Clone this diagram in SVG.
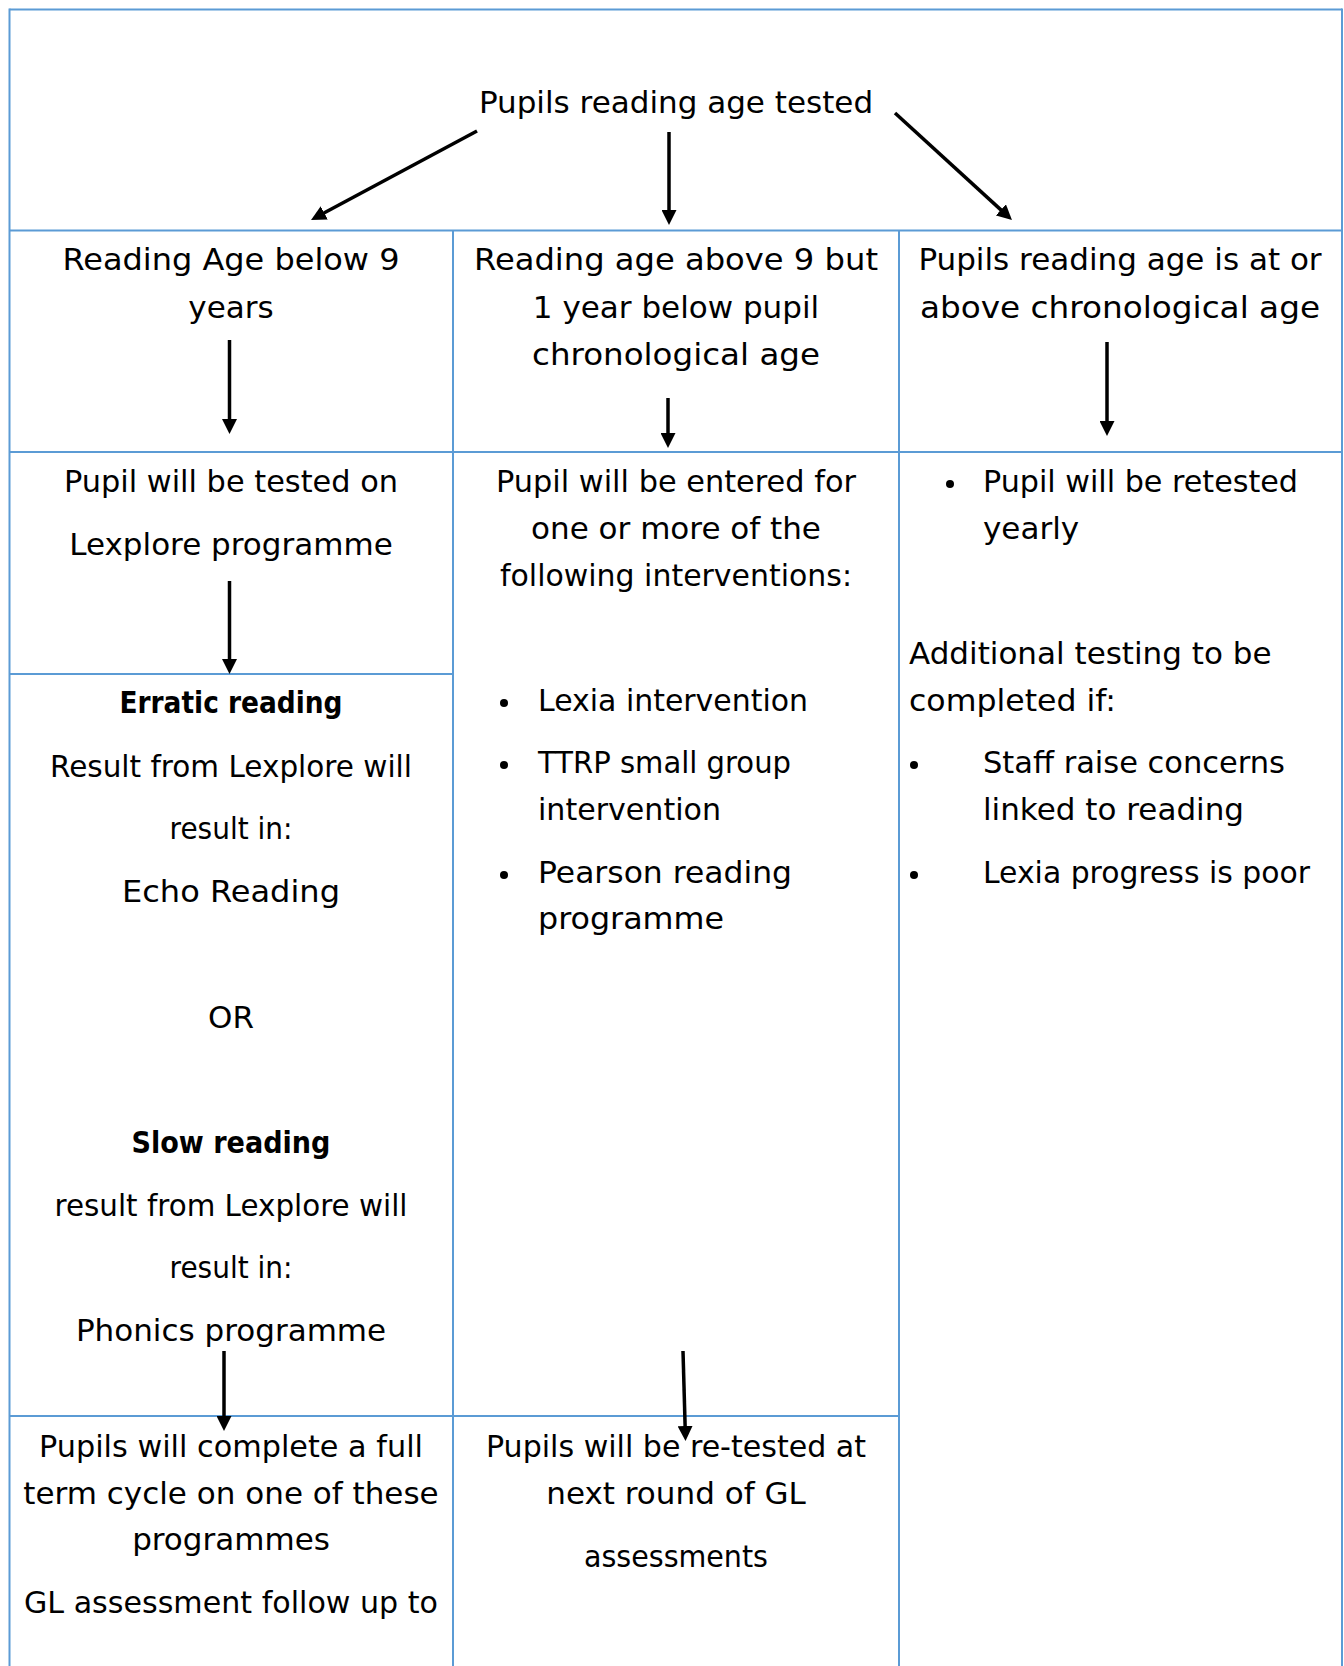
<svg xmlns="http://www.w3.org/2000/svg" width="1344" height="1666" viewBox="0 0 1344 1666">
  <style>
    .grid { stroke: #5B9BD5; stroke-width: 2; fill: none; }
    .t { font-family: "DejaVu Sans", "Liberation Sans", sans-serif; font-size: 31px; fill: #000; }
    .c { text-anchor: middle; }
    .b { font-weight: bold; }
    .arr { stroke: #000; stroke-width: 3.5; fill: none; marker-end: url(#ah); }
    .dot { fill: #000; }
  </style>
  <defs>
    <marker id="ah" markerUnits="userSpaceOnUse" markerWidth="16" markerHeight="15" viewBox="0 0 16 15" refX="3" refY="7.5" orient="auto">
      <path d="M0,0 L15,7.5 L0,15 z" fill="#000"/>
    </marker>
  </defs>
  <rect width="1344" height="1666" fill="#fff"/>

  <g id="table-grid">
    <line class="grid" x1="9.5" y1="9.5" x2="1342" y2="9.5"/>
    <line class="grid" x1="9.5" y1="8.5" x2="9.5" y2="1666"/>
    <line class="grid" x1="1342" y1="8.5" x2="1342" y2="1666"/>
    <line class="grid" x1="9.5" y1="230.5" x2="1342" y2="230.5"/>
    <line class="grid" x1="9.5" y1="452" x2="1342" y2="452"/>
    <line class="grid" x1="9.5" y1="674" x2="453" y2="674"/>
    <line class="grid" x1="9.5" y1="1416" x2="899" y2="1416"/>
    <line class="grid" x1="453" y1="230.5" x2="453" y2="1666"/>
    <line class="grid" x1="899" y1="230.5" x2="899" y2="1666"/>
  </g>

  <g id="node-start">
    <text class="t c" x="676" y="113">Pupils reading age tested</text>
  </g>

  <g id="node-below9">
    <text class="t c" x="231" y="270" textLength="337" lengthAdjust="spacingAndGlyphs">Reading Age below 9</text>
    <text class="t c" x="231" y="318">years</text>
  </g>

  <g id="node-above9">
    <text class="t c" x="676" y="270" textLength="404" lengthAdjust="spacingAndGlyphs">Reading age above 9 but</text>
    <text class="t c" x="676" y="318">1 year below pupil</text>
    <text class="t c" x="676" y="365" textLength="288" lengthAdjust="spacingAndGlyphs">chronological age</text>
  </g>

  <g id="node-atage">
    <text class="t c" x="1120" y="270">Pupils reading age is at or</text>
    <text class="t c" x="1120" y="318" textLength="400" lengthAdjust="spacingAndGlyphs">above chronological age</text>
  </g>

  <g id="node-lexplore">
    <text class="t c" x="231" y="492" textLength="334" lengthAdjust="spacingAndGlyphs">Pupil will be tested on</text>
    <text class="t c" x="231" y="555">Lexplore programme</text>
  </g>

  <g id="node-interventions">
    <text class="t c" x="676" y="492" textLength="360" lengthAdjust="spacingAndGlyphs">Pupil will be entered for</text>
    <text class="t c" x="676" y="539">one or more of the</text>
    <text class="t c" x="676" y="586" textLength="352" lengthAdjust="spacingAndGlyphs">following interventions:</text>
    <circle class="dot" cx="504" cy="703" r="4"/>
    <text class="t" x="538" y="711" textLength="270" lengthAdjust="spacingAndGlyphs">Lexia intervention</text>
    <circle class="dot" cx="504" cy="765" r="4"/>
    <text class="t" x="538" y="773" textLength="253" lengthAdjust="spacingAndGlyphs">TTRP small group</text>
    <text class="t" x="538" y="820" textLength="183" lengthAdjust="spacingAndGlyphs">intervention</text>
    <circle class="dot" cx="504" cy="875" r="4"/>
    <text class="t" x="538" y="883" textLength="254" lengthAdjust="spacingAndGlyphs">Pearson reading</text>
    <text class="t" x="538" y="929" textLength="186" lengthAdjust="spacingAndGlyphs">programme</text>
  </g>

  <g id="node-retest-yearly">
    <circle class="dot" cx="950" cy="484" r="4"/>
    <text class="t" x="983" y="492" textLength="315" lengthAdjust="spacingAndGlyphs">Pupil will be retested</text>
    <text class="t" x="983" y="539">yearly</text>
    <text class="t" x="909" y="664">Additional testing to be</text>
    <text class="t" x="909" y="711" textLength="207" lengthAdjust="spacingAndGlyphs">completed if:</text>
    <circle class="dot" cx="914" cy="765" r="4"/>
    <text class="t" x="983" y="773" textLength="302" lengthAdjust="spacingAndGlyphs">Staff raise concerns</text>
    <text class="t" x="983" y="820">linked to reading</text>
    <circle class="dot" cx="914" cy="875" r="4"/>
    <text class="t" x="983" y="883" textLength="327" lengthAdjust="spacingAndGlyphs">Lexia progress is poor</text>
  </g>

  <g id="node-results">
    <text class="t c b" x="231" y="713" textLength="223" lengthAdjust="spacingAndGlyphs">Erratic reading</text>
    <text class="t c" x="231" y="777" textLength="362" lengthAdjust="spacingAndGlyphs">Result from Lexplore will</text>
    <text class="t c" x="231" y="839" textLength="123" lengthAdjust="spacingAndGlyphs">result in:</text>
    <text class="t c" x="231" y="902" textLength="218" lengthAdjust="spacingAndGlyphs">Echo Reading</text>
    <text class="t c" x="231" y="1028">OR</text>
    <text class="t c b" x="231" y="1153" textLength="199" lengthAdjust="spacingAndGlyphs">Slow reading</text>
    <text class="t c" x="231" y="1216" textLength="353" lengthAdjust="spacingAndGlyphs">result from Lexplore will</text>
    <text class="t c" x="231" y="1278" textLength="123" lengthAdjust="spacingAndGlyphs">result in:</text>
    <text class="t c" x="231" y="1341">Phonics programme</text>
  </g>

  <g id="node-full-term">
    <text class="t c" x="231" y="1457" textLength="384" lengthAdjust="spacingAndGlyphs">Pupils will complete a full</text>
    <text class="t c" x="231" y="1504">term cycle on one of these</text>
    <text class="t c" x="231" y="1550">programmes</text>
    <text class="t c" x="231" y="1613" textLength="414" lengthAdjust="spacingAndGlyphs">GL assessment follow up to</text>
  </g>

  <g id="node-gl-retest">
    <text class="t c" x="676" y="1457" textLength="380" lengthAdjust="spacingAndGlyphs">Pupils will be re-tested at</text>
    <text class="t c" x="676" y="1504">next round of GL</text>
    <text class="t c" x="676" y="1567" textLength="184" lengthAdjust="spacingAndGlyphs">assessments</text>
  </g>

  <g id="connectors">
    <line class="arr" x1="477" y1="131" x2="321.6" y2="214.3"/>
    <line class="arr" x1="669" y1="132" x2="669" y2="213"/>
    <line class="arr" x1="895" y1="113" x2="1003.1" y2="211.9"/>
    <line class="arr" x1="229.5" y1="340" x2="229.5" y2="422"/>
    <line class="arr" x1="668" y1="398" x2="668" y2="436"/>
    <line class="arr" x1="1107" y1="342" x2="1107" y2="424"/>
    <line class="arr" x1="229.5" y1="581" x2="229.5" y2="662"/>
    <line class="arr" x1="224" y1="1351" x2="224" y2="1419"/>
    <line class="arr" x1="683" y1="1351" x2="685.2" y2="1429"/>
  </g>
</svg>
